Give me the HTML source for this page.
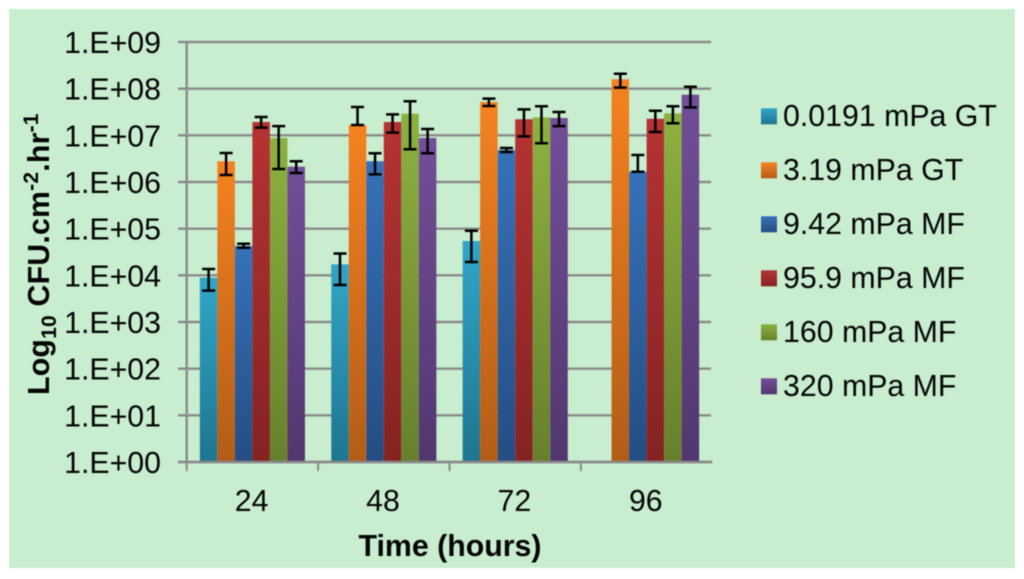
<!DOCTYPE html>
<html lang="en">
<head>
<meta charset="utf-8">
<title>CFU by time and shear stress</title>
<style>
html,body{margin:0;padding:0;background:#fff;width:1024px;height:579px;overflow:hidden}
svg{display:block;filter:blur(0.45px)}
text{font-family:"Liberation Sans",sans-serif;fill:#050505;font-size:30.3px}
</style>
</head>
<body>
<svg id="chart" xmlns="http://www.w3.org/2000/svg" width="1024" height="579" viewBox="0 0 1024 579">
  <defs id="defs"></defs>
  <rect x="9" y="9" width="1006" height="559" fill="#c8eecf"></rect>
  <g id="grid"></g>
  <g id="bars"></g>
  <g id="axes"></g>
  <g id="errors"></g>
  <g id="labels"></g>
  <g id="legend"></g>
  <text transform="translate(49,395) rotate(-90)" style="font-weight:bold;letter-spacing:0.2px">Log<tspan dy="7" style="font-size:21px">10</tspan><tspan dy="-7"> CFU.cm</tspan><tspan dy="-11" style="font-size:21px">-2</tspan><tspan dy="11">.hr</tspan><tspan dy="-11" style="font-size:21px">-1</tspan></text>
  <text x="450" y="556" text-anchor="middle" style="font-weight:bold">Time (hours)</text>
</svg>
<script>
const categories = ["24", "48", "72", "96"];
const tickLabels = ["1.E+00", "1.E+01", "1.E+02", "1.E+03", "1.E+04", "1.E+05", "1.E+06", "1.E+07", "1.E+08", "1.E+09"];
const seriesNames = ["0.0191 mPa GT", "3.19 mPa GT", "9.42 mPa MF", "95.9 mPa MF", "160 mPa MF", "320 mPa MF"];

const values0191 = [8.9e3, 1.72e4, 5.44e4, null];
const values319 = [2.78e6, 1.66e7, 5.18e7, 1.59e8];
const values942 = [4.25e4, 2.78e6, 4.85e6, 1.66e6];
const values959 = [1.93e7, 1.93e7, 2.21e7, 2.27e7];
const values160 = [8.77e6, 2.91e7, 2.43e7, 2.96e7];
const values320 = [2.13e6, 8.77e6, 2.35e7, 7.43e7];

const upper0191 = [1.37e4, 2.94e4, 9.05e4, null];
const upper319 = [4.18e6, 4.05e7, 6.1e7, 2.09e8];
const upper942 = [4.76e4, 4.12e6, 5.36e6, 3.79e6];
const upper959 = [2.47e7, 2.82e7, 3.61e7, 3.37e7];
const upper160 = [1.58e7, 5.36e7, 4.19e7, 4.19e7];
const upper320 = [2.78e6, 1.37e7, 3.16e7, 1.1e8];

const lower0191 = [4.7e3, 6.2e3, 1.93e4, null];
const lower319 = [1.41e6, 1.66e7, 4.25e7, 1.05e8];
const lower942 = [3.91e4, 1.46e6, 4.4e6, 1.66e6];
const lower959 = [1.46e7, 1.14e7, 9.5e6, 1.18e7];
const lower160 = [1.9e6, 5.02e6, 6.75e6, 1.81e7];
const lower320 = [1.56e6, 4.12e6, 1.58e7, 3.98e7];

const seriesValues = [values0191, values319, values942, values959, values160, values320];
const seriesUpper = [upper0191, upper319, upper942, upper959, upper160, upper320];
const seriesLower = [lower0191, lower319, lower942, lower959, lower160, lower320];
const seriesTopColors = ["#31a6c8", "#f58220", "#3672b9", "#b63333", "#8db140", "#724f98"];
const seriesBottomColors = ["#1f7590", "#b35d18", "#254d82", "#852323", "#68802d", "#52376f"];

const NS = "http://www.w3.org/2000/svg";
const plotLeft = 186.7, plotRight = 712.3, plotTop = 42, plotBottom = 462;
const barWidth = (plotRight - plotLeft) / categories.length / 7.5;

function yScale(v) {
  return plotBottom - (Math.log10(v) / (tickLabels.length - 1)) * (plotBottom - plotTop);
}
function categoryLeft(i) {
  return plotLeft + i * (plotRight - plotLeft) / categories.length;
}
function barX(c, s) {
  return categoryLeft(c) + barWidth * 0.75 + s * barWidth;
}
function make(tag, attrs, parent, text) {
  const el = document.createElementNS(NS, tag);
  for (const k in attrs) el.setAttribute(k, attrs[k]);
  if (text !== undefined) el.textContent = text;
  parent.appendChild(el);
  return el;
}

const defs = document.getElementById("defs");
const grid = document.getElementById("grid");
const bars = document.getElementById("bars");
const axes = document.getElementById("axes");
const errors = document.getElementById("errors");
const labels = document.getElementById("labels");
const legend = document.getElementById("legend");
const lineColor = "#8a8a8a";

seriesNames.forEach(function (name, s) {
  const g = make("linearGradient", { id: "grad" + s, x1: 0, y1: 0, x2: 0, y2: 1 }, defs);
  make("stop", { offset: "0", "stop-color": seriesTopColors[s] }, g);
  make("stop", { offset: "1", "stop-color": seriesBottomColors[s] }, g);
});

tickLabels.forEach(function (label, i) {
  const y = yScale(Math.pow(10, i));
  const line = make("line", { x1: 178, x2: 711, y1: y, y2: y, stroke: lineColor, "stroke-width": 2.4 }, grid);
  
  
  const t = make("text", { x: 161, y: y + 11, "text-anchor": "end" }, labels, label);
  
  
});

const yAxis = make("line", { x1: plotLeft, x2: plotLeft, y1: plotTop - 1, y2: plotBottom, stroke: lineColor, "stroke-width": 2.4 }, axes);



categories.forEach(function (cat, c) {
  const left = categoryLeft(c);
  const tick = make("line", { x1: left, x2: left, y1: plotBottom, y2: 471, stroke: lineColor, "stroke-width": 2 }, axes);
  
  
  const t = make("text", { x: left + (plotRight - plotLeft) / categories.length / 2 - 0.8, y: 511, "text-anchor": "middle" }, labels, cat);
  
  

  seriesValues.forEach(function (vals, s) {
    const v = vals[c];
    if (v === null) return;
    const x = barX(c, s);
    const top = yScale(v);
    const bar = make("rect", { x: x, y: top, width: barWidth, height: plotBottom - top, fill: "url(#grad" + s + ")" }, bars);
    
    

    const cx = x + barWidth / 2;
    const yu = yScale(seriesUpper[s][c]);
    const yl = yScale(seriesLower[s][c]);
    const err = make("path", {
      d: "M" + (cx - 6.5) + " " + yu + "H" + (cx + 6.5) + "M" + cx + " " + yu + "V" + yl + "M" + (cx - 6.5) + " " + yl + "H" + (cx + 6.5),
      fill: "none", stroke: "#000", "stroke-width": 2.5
    }, errors);
    
    
  });
});

const xAxis = make("line", { x1: 178, x2: plotRight, y1: plotBottom, y2: plotBottom, stroke: lineColor, "stroke-width": 2.4 }, axes);



seriesNames.forEach(function (name, s) {
  const rowY = 108.3 + s * 54;
  const swatch = make("rect", { x: 761, y: rowY, width: 16, height: 16, fill: "url(#grad" + s + ")" }, legend);
  
  
  const t = make("text", { x: 783, y: rowY + 17.7 }, legend, name);
  
  
});
</script>
</body>
</html>
